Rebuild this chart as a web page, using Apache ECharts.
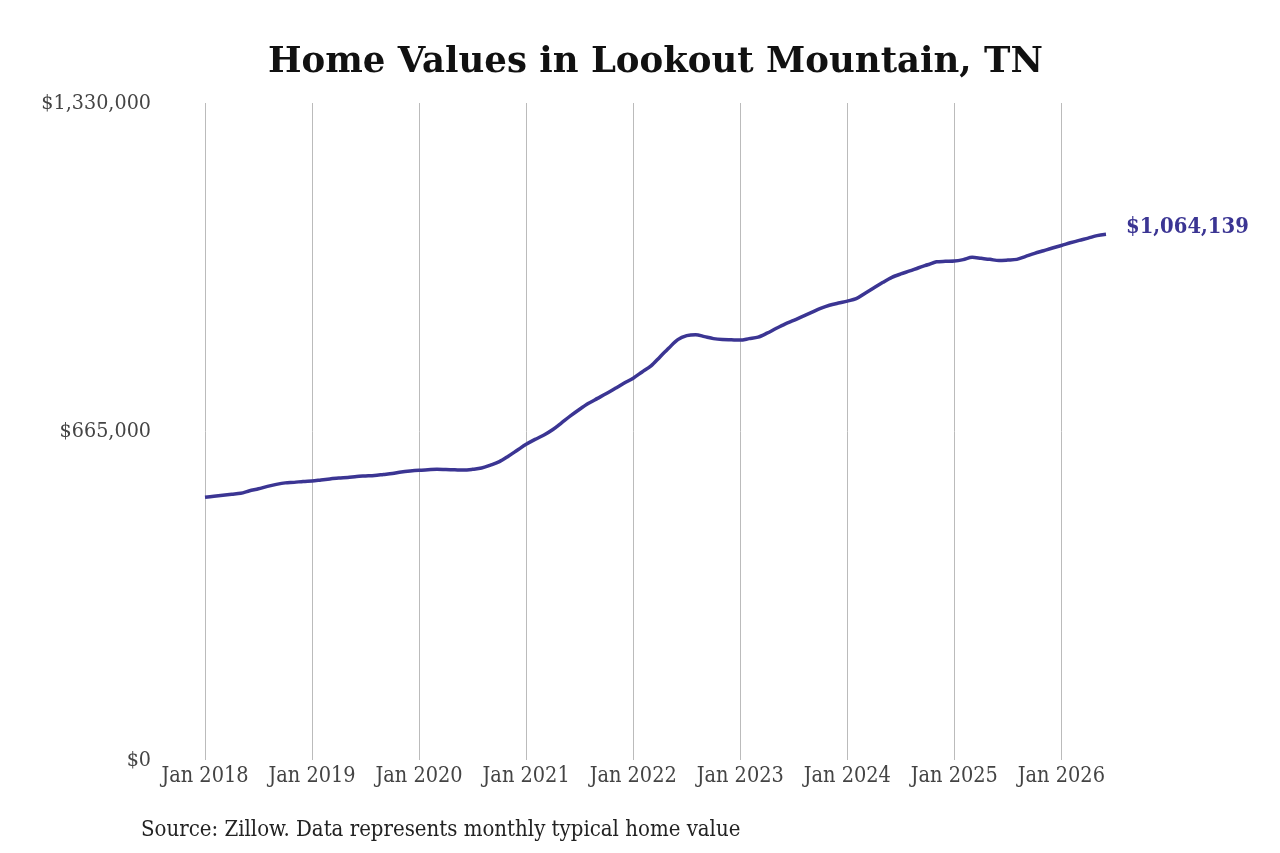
<!DOCTYPE html>
<html>
<head>
<meta charset="utf-8">
<script src="https://cdn.jsdelivr.net/npm/echarts@6/dist/echarts.min.js"></script>
<style>
html,body{margin:0;padding:0;background:#fff;}
#chart{width:1280px;height:853px;}
</style>
</head>
<body>
<div id="chart"></div>
<script>
// Monthly typical home value, Jan 2018 – Jun 2026
const startYear = 2018;
const values = [
  532000, 534000, 536000, 538000, 540000, 545000, 549000, 554000, 558000, 561000, 562000, 564000,
  565000, 567000, 569000, 571000, 572000, 574000, 575000, 576000, 578000, 580000, 583000, 585000,
  586500, 587500, 588500, 588000, 587500, 587000, 588500, 591000, 597000, 604000, 615000, 627000,
  639000, 649000, 658000, 669000, 683000, 697000, 710000, 722000, 732000, 742000, 752500, 763000,
  773000, 785500, 798000, 816000, 834000, 851000, 859000, 861000, 857000, 853000, 851000, 850500,
  850000, 853000, 856000, 864000, 873500, 882500, 890000, 898000, 906000, 914000, 920500, 925000,
  929000, 934000, 945000, 956000, 967000, 977000, 984000, 990000, 996500, 1002500, 1008500, 1009500,
  1010000, 1013000, 1017500, 1015500, 1013500, 1011000, 1012000, 1013500, 1019500, 1025500, 1031000, 1036500,
  1041500, 1047000, 1052000, 1056500, 1061500, 1064139
];
const monthNames = ['Jan','Feb','Mar','Apr','May','Jun','Jul','Aug','Sep','Oct','Nov','Dec'];
const categories = values.map((v, i) => monthNames[i % 12] + ' ' + (startYear + Math.floor(i / 12)));
const yTicks = [0, 665000, 1330000];
const titleText = 'Home Values in Lookout Mountain, TN';
const sourceText = 'Source: Zillow. Data represents monthly typical home value';

const fmt = v => '$' + Math.round(v).toLocaleString('en-US');
const serif = "'DejaVu Serif Condensed', 'DejaVu Serif', serif";
const lineColor = '#3b3593';

const chart = echarts.init(document.getElementById('chart'));
chart.setOption({
  backgroundColor: '#fff',
  animation: false,
  title: [
    { text: titleText, left: 263, top: 40,
      textStyle: { fontFamily: "'DejaVu Serif', serif", fontWeight: 'bold', fontSize: 35.5, color: '#111' } },
    { text: sourceText, left: 136, top: 814,
      textStyle: { fontFamily: serif, fontWeight: 'normal', fontSize: 22, color: '#222' } }
  ],
  grid: { left: 205, right: 174, top: 103, bottom: 93 },
  xAxis: {
    type: 'category',
    data: categories,
    boundaryGap: false,
    axisLine: { show: false },
    axisTick: { show: false },
    axisLabel: {
      interval: (i) => i % 12 === 0,
      margin: 5,
      fontFamily: serif, fontSize: 21.5, color: '#444'
    },
    splitLine: {
      show: true,
      interval: (i) => i % 12 === 0,
      lineStyle: { color: '#bbbbbb', width: 1 }
    }
  },
  yAxis: {
    type: 'value',
    min: yTicks[0],
    max: yTicks[yTicks.length - 1],
    interval: yTicks[1] - yTicks[0],
    axisLine: { show: false },
    axisTick: { show: false },
    splitLine: { show: false },
    axisLabel: {
      margin: 54,
      formatter: fmt,
      fontFamily: serif, fontSize: 21.3, color: '#444'
    }
  },
  series: [{
    type: 'line',
    data: values,
    smooth: 0.3,
    symbol: 'none',
    lineStyle: { color: lineColor, width: 3.5 },
    endLabel: {
      show: true,
      formatter: (p) => fmt(p.value),
      distance: 20,
      offset: [0, -7],
      fontFamily: serif, fontWeight: 'bold', fontSize: 21.8, color: lineColor
    }
  }]
});
</script>
</body>
</html>
